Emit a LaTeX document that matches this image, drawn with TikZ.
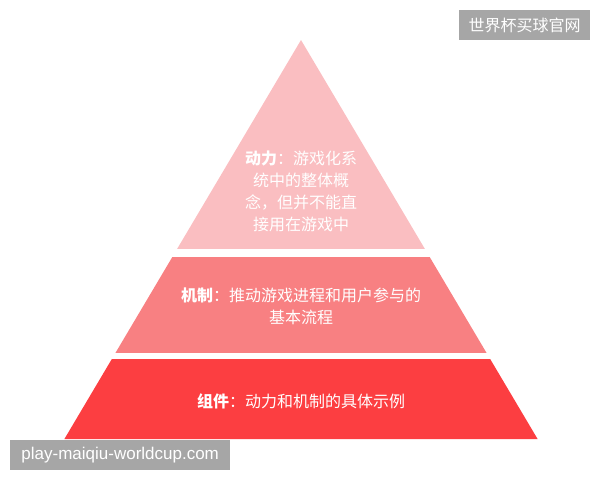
\documentclass[tikz,border=0pt]{standalone}
\usepackage{fontspec}
\usepackage{tikz}
\setmainfont{Liberation Sans}
\newfontfamily\cjk{Noto Sans CJK SC}
\usetikzlibrary{positioning, calc}
\definecolor{tierTop}{RGB}{250, 190, 193}
\definecolor{tierMid}{RGB}{248, 128, 130}
\definecolor{tierBase}{RGB}{252, 62, 65}
\definecolor{markGrey}{RGB}{166, 166, 166}

\begin{document}
\begin{tikzpicture} [
        x=1pt, y=-1pt,
        lbl/.style={text=white, align=center, font=\cjk\fontsize{16}{22}\selectfont},
        wm/.style={fill=markGrey, text=white, inner sep=0pt, minimum height=30},
        c/.style={align=center}
    ]
        \useasboundingbox (0,0) rectangle (600,480);

        \coordinate (apex) at (301, 40);
        \coordinate (bl) at (64.4, 439);
        \coordinate (br) at (537.6, 439);

        \begin{scope}
            \clip (apex) -- (br) -- (bl) -- cycle;
            \foreach \ytop/\ybot/\col in {30/249/tierTop, 257/353/tierMid, 359/440/tierBase} {
                \fill[\col] (0, \ytop) rectangle (600, \ybot);
            }
        \end{scope}

        \node [lbl] (dyn) at (301, 191) {
                \textbf{动力}：游戏化系\\
                统中的整体概\\
                念，但并不能直\\
                接用在游戏中
            };
        \node [lbl] (mech) at (301, 306.5) {
                \textbf{机制}：推动游戏进程和用户参与的\\
                基本流程
            };
        \node [lbl] (comp) at (301, 401) {\textbf{组件}：动力和机制的具体示例};

        \node [wm, minimum width=131, font=\cjk\fontsize{16}{16}\selectfont, anchor=north west] (site) at (459, 10) {世界杯买球官网};
        \node [wm, minimum width=220, font=\fontsize{17}{17}\selectfont, anchor=north west] (url) at (10, 440) {play-maiqiu-worldcup.com};
    \end{tikzpicture}
\end{document}
